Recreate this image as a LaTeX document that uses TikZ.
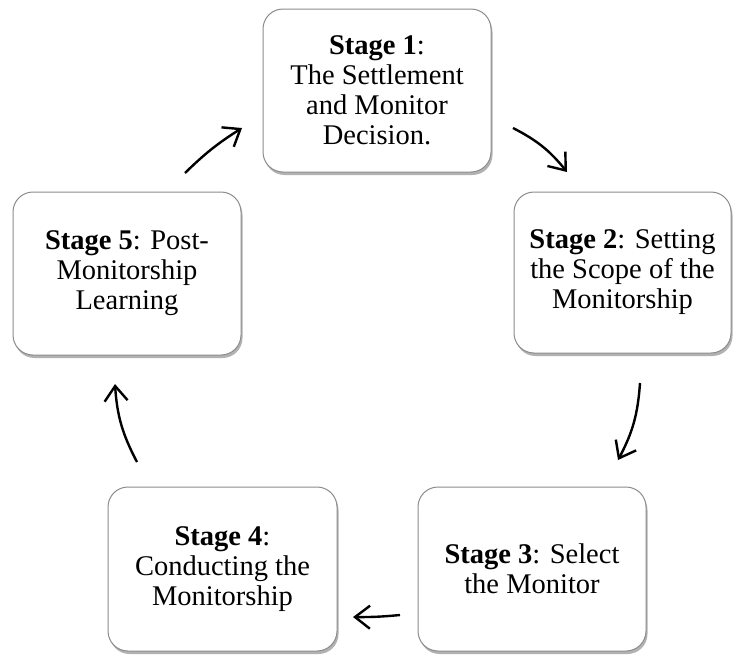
\documentclass[tikz,border=0pt]{standalone}
\usepackage{fontspec}
\setmainfont{Liberation Serif}
\usetikzlibrary{arrows.meta}
\usetikzlibrary{shadows}
\definecolor{box-gray}{gray}{0.55}
\tikzstyle{stagebox}=[draw=box-gray,line width=1pt,rounded corners=20pt,fill=white,align=center,inner sep=4pt,font=\fontsize{28.5}{30}\selectfont,drop shadow={shadow xshift=1.5pt,shadow yshift=-3pt,opacity=0.3,fill=black}]
\tikzstyle{cyclearrow}=[line width=2.4pt,-{Straight Barb[length=15pt,width=23pt]},bend left=12]

\begin{document}
\begin{tikzpicture}[x=1pt,y=1pt]
\useasboundingbox (0,0) rectangle (733,-654);
% stages
\node[stagebox,minimum width=228pt,minimum height=163pt] (s1) at (377,-90.5) {\textbf{Stage 1}:\\The Settlement\\and Monitor\\Decision.};
\node[stagebox,minimum width=217pt,minimum height=161pt] (s2) at (622.5,-272.5) {\textbf{Stage 2}: Setting\\the Scope of the\\Monitorship};
\node[stagebox,minimum width=228pt,minimum height=164pt] (s3) at (532,-569) {\textbf{Stage 3}: Select\\the Monitor};
\node[stagebox,minimum width=229pt,minimum height=164pt] (s4) at (222.5,-569) {\textbf{Stage 4}:\\Conducting the\\Monitorship};
\node[stagebox,minimum width=228pt,minimum height=163pt] (s5) at (127,-273.5) {\textbf{Stage 5}: Post-\\Monitorship\\Learning};
% arrow ends, in the gaps between stages
\coordinate (a51) at (185,-173);
\coordinate (b51) at (242,-128);
\coordinate (a12) at (513,-128);
\coordinate (b12) at (567,-172);
\coordinate (a23) at (640,-383);
\coordinate (b23) at (618,-460);
\coordinate (a34) at (400,-615);
\coordinate (b34) at (353,-617);
\coordinate (a45) at (137,-462);
\coordinate (b45) at (115,-384);
% cycle
\draw[cyclearrow,bend left=6] (a51) to (b51);
\draw[cyclearrow] (a12) to (b12);
\draw[cyclearrow] (a23) to (b23);
\draw[cyclearrow,bend left=3] (a34) to (b34);
\draw[cyclearrow] (a45) to (b45);
\end{tikzpicture}
\end{document}
